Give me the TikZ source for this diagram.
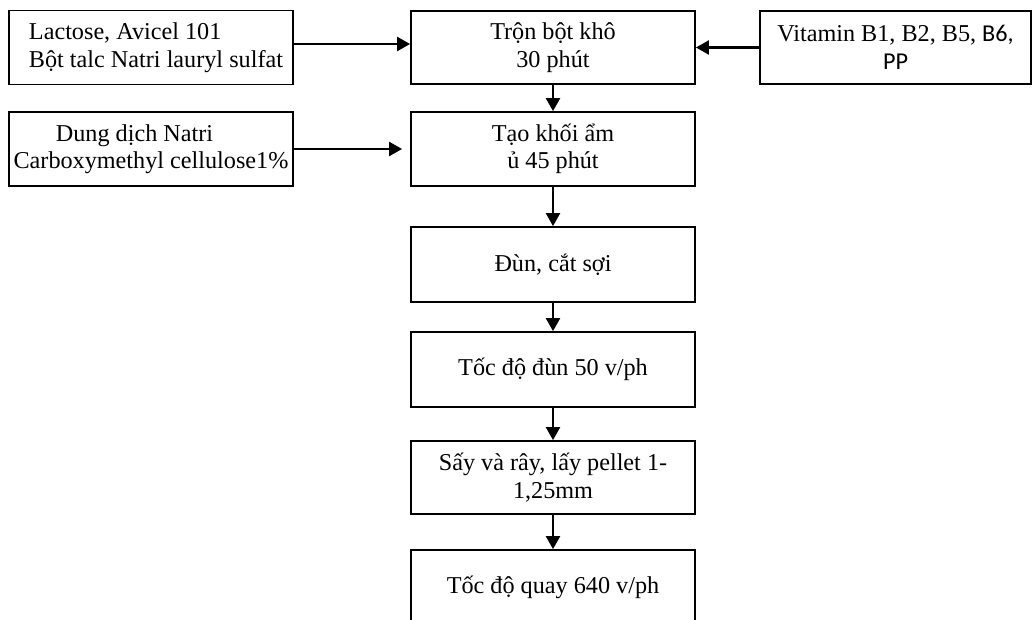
\documentclass[tikz,border=0pt]{standalone}
\usepackage{fontspec}
\setmainfont{Liberation Serif}
\newfontfamily\calib{Carlito}
\usetikzlibrary{arrows.meta}
\begin{document}
\begin{tikzpicture}[x=1pt,y=-1pt,
  box/.style={draw,line width=1.8pt,minimum width=284pt,minimum height=74pt,inner sep=0pt,align=center,
    font=\fontsize{24.2}{27.5}\selectfont},
  arr/.style={line width=2.2pt,-{Triangle[length=13pt,width=14pt]}}]
\useasboundingbox (0,0) rectangle (1032,619);
\clip (0,0) rectangle (1032,619);
\node[box,align=left] (L1) at (151,47.5) {\hspace*{10pt}Lactose, Avicel 101\\\hspace*{10pt}Bột talc Natri lauryl sulfat};
\node[box] (L2) at (151,149) {Dung dịch Natri\hspace*{33pt}\\Carboxymethyl cellulose1\%};
\node[box,minimum height=73pt] (T1) at (553,47.5) {Trộn bột khô\\30 phút};
\node[box] (T2) at (553,149) {Tạo khối ẩm\\ủ 45 phút};
\node[box,minimum height=75pt] (T3) at (553,264.5) {Đùn, cắt sợi};
\node[box,minimum height=75pt] (T4) at (553,369.5) {Tốc độ đùn 50 v/ph};
\node[box,minimum height=73pt] (T5) at (553,477.5) {Sấy và rây, lấy pellet 1-\\1,25mm};
\node[box,minimum height=75pt] (T6) at (553,587.5) {Tốc độ quay 640 v/ph};
\node[box,minimum width=271pt,minimum height=73pt] (V) at (895.5,47.5) {Vitamin B1, B2, B5, {\calib B6,}\\{\calib PP}};
\draw[arr] ([yshift=3.5pt]L1.east) -- ([yshift=3.5pt]T1.west);
\draw[arr,shorten >=8pt] (L2.east) -- (T2.west);
\draw[arr] (V.west) -- (T1.east);
\draw[arr] (T1) -- (T2);
\draw[arr] (T2) -- (T3);
\draw[arr] (T3) -- (T4);
\draw[arr] (T4) -- (T5);
\draw[arr] (T5) -- (T6);
\end{tikzpicture}
\end{document}
